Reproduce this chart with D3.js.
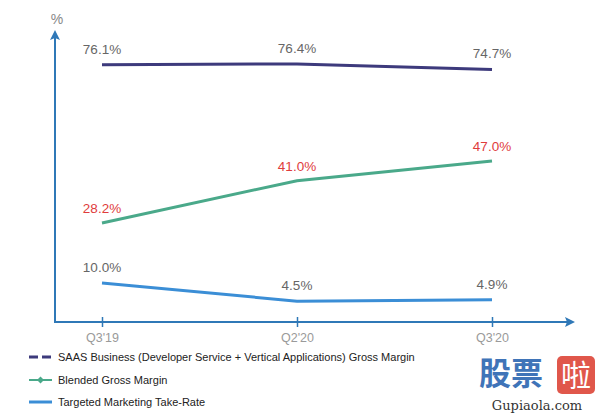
<!DOCTYPE html>
<html><head><meta charset="utf-8">
<script src="https://cdn.jsdelivr.net/npm/d3@7"></script>
<style>body{margin:0;background:#fff}svg{display:block;font-family:"Liberation Sans",Arial,sans-serif}</style>
</head><body><svg id="c" width="600" height="413"></svg>
<script>
const categories = ["Q3'19", "Q2'20", "Q3'20"];
const saas = [76.1, 76.4, 74.7];
const blended = [28.2, 41.0, 47.0];
const takeRate = [10.0, 4.5, 4.9];
const seriesNames = ["SAAS Business (Developer Service + Vertical Applications) Gross Margin", "Blended Gross Margin", "Targeted Marketing Take-Rate"];

const svg = d3.select("#c");
const x = d3.scalePoint().domain(categories).range([102, 492]);
const y = d3.scaleLinear().domain([0, 80]).range([316, 52]);

const axisColor = "#2f78b7";
// x axis
svg.append("line").attr("x1", 55).attr("x2", 570).attr("y1", 322).attr("y2", 322)
  .attr("stroke", axisColor).attr("stroke-width", 2);
svg.append("path").attr("d", "M575,322 L565,317 L567,322 L565,327 Z").attr("fill", axisColor);
// y axis
svg.append("line").attr("x1", 55).attr("x2", 55).attr("y1", 323).attr("y2", 36)
  .attr("stroke", axisColor).attr("stroke-width", 2);
svg.append("path").attr("d", "M55,30 L50,40 L55,38 L60,40 Z").attr("fill", axisColor);
svg.append("text").attr("x", 57).attr("y", 24).attr("text-anchor", "middle")
  .attr("font-size", 14).attr("fill", "#888").text("%");

// x ticks
const xAxis = svg.append("g").attr("transform", "translate(0,322)")
  .call(d3.axisBottom(x).tickSize(0).tickPadding(11));
xAxis.select(".domain").remove();
xAxis.selectAll("text").attr("font-size", 12.5).attr("fill", "#9a9a9a").attr("font-family", "Liberation Sans, Arial, sans-serif");
xAxis.selectAll(".tick").append("line").attr("y1", -5).attr("y2", 5).attr("stroke", axisColor).attr("stroke-width", 1.5);

const series = [
  {vals: saas, color: "#3d3a7c", labelColor: "#666", dy: -11},
  {vals: blended, color: "#4aa98a", labelColor: "#e03c3c", dy: -10},
  {vals: takeRate, color: "#3b8ed6", labelColor: "#666", dy: -11}
];
const line = d3.line().x((d, i) => x(categories[i])).y(d => y(d));
series.forEach(s => {
  svg.append("path").attr("d", line(s.vals)).attr("fill", "none")
    .attr("stroke", s.color).attr("stroke-width", 3);
  svg.selectAll(null).data(s.vals).enter().append("text")
    .attr("x", (d, i) => x(categories[i]))
    .attr("y", d => y(d) + s.dy)
    .attr("text-anchor", "middle").attr("font-size", 13.5).attr("fill", s.labelColor)
    .text(d => d.toFixed(1) + "%");
});

// legend
const leg = svg.append("g");
const ly = [357, 380, 402];
leg.append("line").attr("x1", 29).attr("x2", 52).attr("y1", ly[0]).attr("y2", ly[0])
  .attr("stroke", series[0].color).attr("stroke-width", 3).attr("stroke-dasharray", "9,4");
leg.append("line").attr("x1", 29).attr("x2", 52).attr("y1", ly[1]).attr("y2", ly[1])
  .attr("stroke", series[1].color).attr("stroke-width", 2);
leg.append("path").attr("d", `M40.5,${ly[1]-3.5} L44,${ly[1]} L40.5,${ly[1]+3.5} L37,${ly[1]} Z`).attr("fill", series[1].color);
leg.append("line").attr("x1", 29).attr("x2", 52).attr("y1", ly[2]).attr("y2", ly[2])
  .attr("stroke", series[2].color).attr("stroke-width", 3);
seriesNames.forEach((n, i) => {
  leg.append("text").attr("x", 58).attr("y", ly[i] + 4).attr("font-size", 11)
    .attr("fill", "#222").text(n);
});

// watermark
const wm = svg.append("g");
wm.append("text").attr("x", 479).attr("y", 385).attr("font-size", 32).attr("font-weight", "bold")
  .attr("font-family", "Noto Sans CJK SC").attr("fill", "#3f74b8").text("股票");
wm.append("rect").attr("x", 557).attr("y", 356).attr("width", 38).attr("height", 38).attr("rx", 5).attr("fill", "#e0574b");
wm.append("text").attr("x", 576).attr("y", 386).attr("text-anchor", "middle").attr("font-size", 30)
  .attr("font-family", "Noto Sans CJK SC").attr("fill", "#fff").text("啦");
wm.append("text").attr("x", 537).attr("y", 410).attr("text-anchor", "middle").attr("font-size", 13)
  .attr("font-family", "DejaVu Serif, serif").attr("fill", "#333").text("Gupiaola.com");
</script></body></html>
